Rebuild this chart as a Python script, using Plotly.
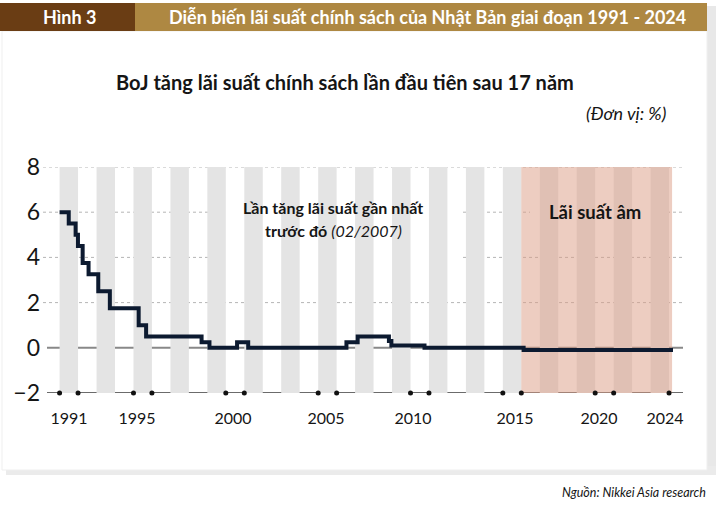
import plotly.graph_objects as go

# ---------------- data ----------------
rate_dates = ["1991-01-01", "1991-07-01", "1991-11-14", "1991-12-30", "1992-04-01",
              "1992-07-27", "1993-02-04", "1993-09-21", "1995-04-14", "1995-09-08",
              "1998-09-09", "1999-02-12", "2000-08-11", "2001-03-19", "2006-07-14",
              "2007-02-21", "2008-10-31", "2008-12-19", "2010-10-05", "2016-02-16",
              "2024-03-19"]
rate_values = [6.0, 5.5, 5.0, 4.5, 3.75, 3.25, 2.5, 1.75, 1.0, 0.5,
               0.25, 0.0, 0.25, 0.0, 0.25, 0.5, 0.3, 0.1, 0.0, -0.1, -0.1]

tick_labels = ["1991", "1995", "2000", "2005", "2010", "2015", "2020", "2024"]
tick_positions = ["1991-07-05", "1995-03-13", "2000-05-24", "2005-06-06",
                  "2010-02-20", "2015-08-29", "2020-03-17", "2023-10-12"]
y_ticks = [-2, 0, 2, 4, 6, 8]

marker_dates = ["1991-01-01", "1992-01-01", "1995-01-01", "1996-01-01", "2000-01-01",
                "2001-01-01", "2005-01-01", "2006-01-01", "2010-01-01", "2011-01-01",
                "2015-01-01", "2016-01-01", "2020-01-01", "2021-01-01", "2024-01-01"]

band_years = list(range(1991, 2024, 2))
negative_start, negative_end = "2016-01-01", "2024-03-01"
last_hike_date = "2007-02-21"

# ---------------- geometry helpers ----------------
W, H = 716, 505
L, R, T, B = 47, 683, 167, 393


def px_x(px):
    return (px - L) / (R - L)


def px_y(py):
    return (B - py) / (B - T)


FONT = "Lato, Roboto, sans-serif"
INK = "#151515"

fig = go.Figure()

fig.add_trace(go.Scatter(
    x=rate_dates, y=rate_values, mode="lines", line_shape="hv",
    line=dict(color="#0c1a30", width=4), hoverinfo="skip", showlegend=False))

fig.add_trace(go.Scatter(
    x=marker_dates, y=[-2] * len(marker_dates), mode="markers",
    marker=dict(color="#111111", size=5), cliponaxis=False,
    hoverinfo="skip", showlegend=False))

shapes = []
# card shadow + card
shapes.append(dict(type="rect", xref="paper", yref="paper", layer="below",
                   x0=px_x(704), x1=px_x(716), y0=px_y(474), y1=px_y(6),
                   fillcolor="#e8e8e8", line_width=0))
shapes.append(dict(type="rect", xref="paper", yref="paper", layer="below",
                   x0=px_x(6), x1=px_x(716), y0=px_y(475), y1=px_y(466),
                   fillcolor="#ebebeb", line_width=0))
shapes.append(dict(type="rect", xref="paper", yref="paper", layer="below",
                   x0=px_x(2), x1=px_x(707), y0=px_y(470), y1=px_y(31),
                   fillcolor="white", line=dict(color="#efefef", width=1)))
# header
shapes.append(dict(type="rect", xref="paper", yref="paper", layer="below",
                   x0=px_x(0), x1=px_x(135), y0=px_y(31), y1=px_y(3),
                   fillcolor="#6a3d14", line_width=0))
shapes.append(dict(type="rect", xref="paper", yref="paper", layer="below",
                   x0=px_x(135), x1=px_x(707), y0=px_y(31), y1=px_y(3),
                   fillcolor="#ae8842", line_width=0))

# grey bands on odd years
for yr in band_years:
    shapes.append(dict(type="rect", xref="x", yref="y", layer="below",
                       x0=f"{yr}-01-01", x1=f"{yr + 1}-01-01", y0=-2, y1=8,
                       fillcolor="#e4e4e4", line_width=0))
# negative-rate period
shapes.append(dict(type="rect", xref="x", yref="y", layer="below",
                   x0=negative_start, x1=negative_end, y0=-2, y1=8,
                   fillcolor="rgba(219,156,131,0.5)", line_width=0))
# dotted gridlines
for gv in [2, 4, 6, 8]:
    shapes.append(dict(type="line", xref="paper", yref="y", layer="below",
                       x0=px_x(43), x1=1, y0=gv, y1=gv,
                       line=dict(color="#b5b5b5", width=1, dash="dot")))
# zero line and baseline
shapes.append(dict(type="line", xref="paper", yref="y", layer="below",
                   x0=0, x1=1, y0=0, y1=0, line=dict(color="#888888", width=2)))
shapes.append(dict(type="line", xref="paper", yref="y", layer="below",
                   x0=0, x1=1, y0=-2, y1=-2, line=dict(color="#3a3a3a", width=1.5)))
# annotation boxes
shapes.append(dict(type="rect", xref="paper", yref="paper", layer="below",
                   x0=px_x(218), x1=px_x(462), y0=px_y(258), y1=px_y(177),
                   fillcolor="white", line_width=0))
shapes.append(dict(type="rect", xref="paper", yref="paper", layer="below",
                   x0=px_x(530), x1=px_x(663), y0=px_y(237), y1=px_y(188),
                   fillcolor="white", line_width=0))
# connector to last hike
shapes.append(dict(type="line", xref="x", yref="paper", layer="below",
                   x0=last_hike_date, x1=last_hike_date, y0=px_y(258), y1=px_y(337),
                   line=dict(color="#6a6a6a", width=1)))

annotations = []


def note(text, px, py, size, anchor="center", color=INK, bold=False, italic=False):
    if bold:
        text = f"<b>{text}</b>"
    if italic:
        text = f"<i>{text}</i>"
    annotations.append(dict(text=text, xref="paper", yref="paper",
                            x=px_x(px), y=px_y(py), xanchor=anchor, yanchor="middle",
                            showarrow=False, font=dict(family=FONT, size=size, color=color)))


note("Hình 3", 69, 17, 18, color="white", bold=True)
note("Diễn biến lãi suất chính sách của Nhật Bản giai đoạn 1991 - 2024", 427, 17, 18,
     color="white", bold=True)
note("BoJ tăng lãi suất chính sách lần đầu tiên sau 17 năm", 345, 82, 20, bold=True)
note("(Đơn vị: %)", 668, 113, 18, anchor="right", italic=True)
note("Lần tăng lãi suất gần nhất", 333, 207, 16, bold=True)
note("<b>trước đó</b> <i>(02/2007)</i>", 333, 230, 16)
note("Lãi suất âm", 595, 212, 18.5, bold=True)
note("Nguồn: Nikkei Asia research", 708, 492, 12.5, anchor="right", italic=True)

fig.update_layout(
    width=W, height=H,
    margin=dict(l=L, r=W - R, t=T, b=H - B, pad=0),
    paper_bgcolor="white", plot_bgcolor="rgba(0,0,0,0)",
    font=dict(family=FONT, color=INK),
    shapes=shapes, annotations=annotations, showlegend=False,
    xaxis=dict(type="date", range=["1990-04-27", "2024-10-03"],
               tickvals=tick_positions, ticktext=tick_labels,
               showgrid=False, zeroline=False, showline=False, ticks="",
               tickfont=dict(family=FONT, size=16, color=INK), ticklabelstandoff=14,
               fixedrange=True),
    yaxis=dict(range=[-2, 8], tickvals=y_ticks, showgrid=False, zeroline=False,
               showline=False, ticks="", tickfont=dict(family=FONT, size=23, color=INK),
               ticklabelstandoff=6, fixedrange=True),
)

fig.write_html("out.html", config={"displayModeBar": False})
